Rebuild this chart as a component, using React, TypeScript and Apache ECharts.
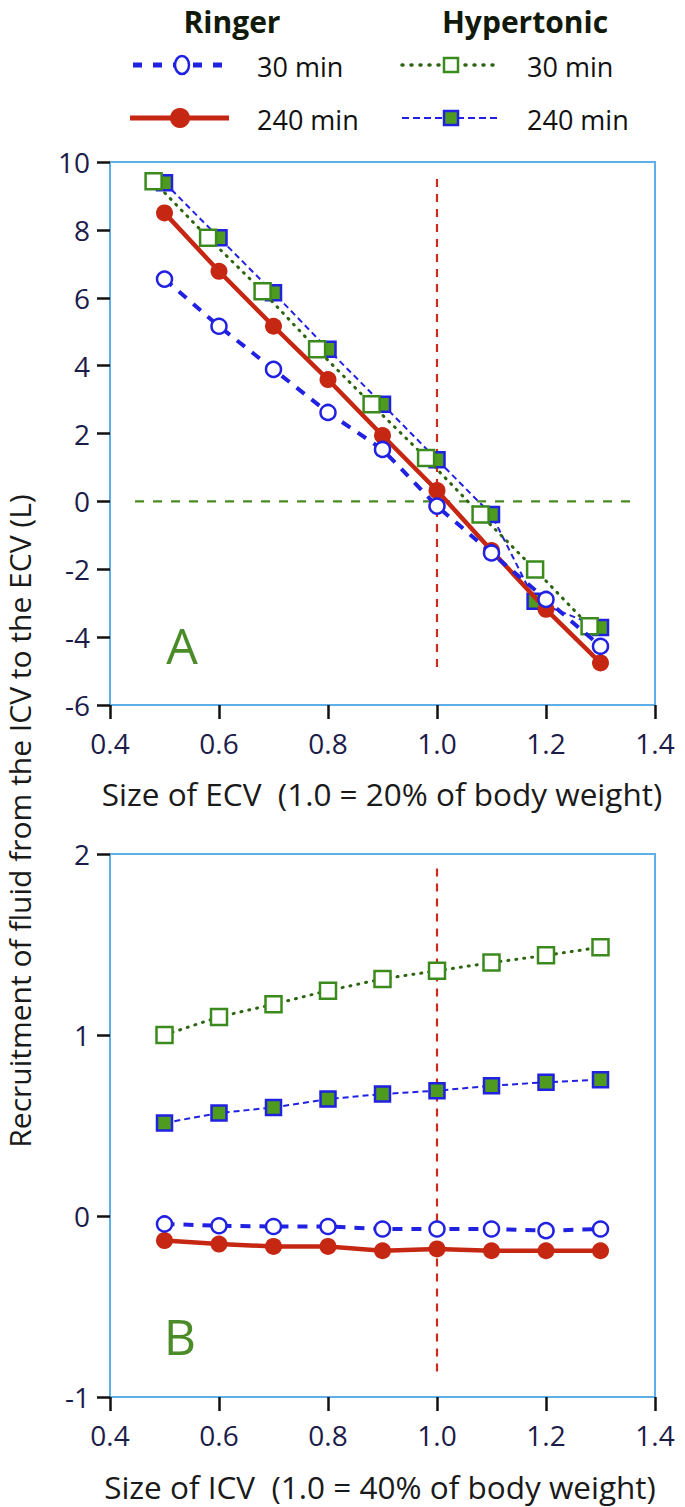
import React, { useEffect, useRef } from "react";
import * as echarts from "echarts";

// ---------- Data ----------
const xTicks = [0.4, 0.6, 0.8, 1.0, 1.2, 1.4];

// Panel A (Size of ECV)
const xA_ringer = [0.5, 0.6, 0.7, 0.8, 0.9, 1.0, 1.1, 1.2, 1.3];
const yA_ringer30 = [6.55, 5.16, 3.89, 2.62, 1.53, -0.14, -1.52, -2.89, -4.27];
const yA_ringer240 = [8.5, 6.78, 5.16, 3.59, 1.94, 0.32, -1.45, -3.18, -4.76];
const xA_hyper30 = [0.48, 0.58, 0.68, 0.78, 0.88, 0.98, 1.08, 1.18, 1.28];
const yA_hyper30 = [9.43, 7.77, 6.19, 4.48, 2.86, 1.28, -0.39, -2.01, -3.68];
const xA_hyper240 = [0.5, 0.6, 0.7, 0.8, 0.9, 1.0, 1.1, 1.18, 1.3];
const yA_hyper240 = [9.39, 7.77, 6.15, 4.48, 2.86, 1.23, -0.39, -2.94, -3.72];

// Panel B (Size of ICV)
const xB = [0.5, 0.6, 0.7, 0.8, 0.9, 1.0, 1.1, 1.2, 1.3];
const yB_hyper30 = [1.0, 1.1, 1.17, 1.245, 1.31, 1.355, 1.4, 1.44, 1.485];
const yB_hyper240 = [0.514, 0.569, 0.6, 0.646, 0.674, 0.692, 0.72, 0.739, 0.753];
const yB_ringer30 = [-0.044, -0.054, -0.058, -0.058, -0.072, -0.072, -0.072, -0.081, -0.072];
const yB_ringer240 = [-0.136, -0.155, -0.168, -0.168, -0.192, -0.182, -0.192, -0.192, -0.192];

// Reference lines
const refA_vertical = [[1.0, 9.5], [1.0, -5.0]];
const refA_horizontal = [[0.446, 0], [1.366, 0]];
const refB_vertical = [[1.0, 1.92], [1.0, -0.89]];

const zip = (xs: number[], ys: number[]) => xs.map((x, i) => [x, ys[i]]);

// ---------- Styles ----------
const FONT = "Open Sans";
const BLUE = "#2121e2";
const RED = "#c62713";
const GREEN = "#3b8a1d";
const GREEN_FILL = "#4f9b1f";
const DOT_GREEN = "#2c6410";
const BOX = "#5eaee9";
const NAVY = "#1c1c4a";

const ringer30Style = {
  type: "line",
  symbol: "circle",
  symbolSize: 15,
  itemStyle: { color: "#ffffff", borderColor: BLUE, borderWidth: 2.5 },
  lineStyle: { color: BLUE, width: 4, type: [10, 9] },
  z: 5,
};
const ringer240Style = {
  type: "line",
  symbol: "circle",
  symbolSize: 17,
  itemStyle: { color: RED },
  lineStyle: { color: RED, width: 4.5, type: "solid" },
  z: 4,
};
const hyper30Style = {
  type: "line",
  symbol: "rect",
  symbolSize: 16,
  itemStyle: { color: "#ffffff", borderColor: GREEN, borderWidth: 2.5 },
  lineStyle: { color: DOT_GREEN, width: 3, type: [1, 7], cap: "round" },
  z: 3,
};
const hyper240Style = {
  type: "line",
  symbol: "rect",
  symbolSize: 15,
  itemStyle: { color: GREEN_FILL, borderColor: BLUE, borderWidth: 2.5 },
  lineStyle: { color: BLUE, width: 2, type: [6, 4] },
  z: 2,
};

const axisCommonX = (gridIndex: number) => ({
  type: "value",
  gridIndex,
  min: 0.4,
  max: 1.4,
  interval: 0.2,
  axisLine: { show: true, onZero: false, lineStyle: { color: BOX, width: 2 } },
  axisTick: { show: true, length: 14, lineStyle: { color: "#111", width: 2.5 } },
  axisLabel: {
    margin: 24,
    color: NAVY,
    fontFamily: FONT,
    fontSize: 28,
    formatter: (v: number) => v.toFixed(1),
  },
  splitLine: { show: false },
});

const axisCommonY = (gridIndex: number, min: number, max: number, interval: number) => ({
  type: "value",
  gridIndex,
  min,
  max,
  interval,
  axisLine: { show: true, onZero: false, lineStyle: { color: BOX, width: 2 } },
  axisTick: { show: true, length: 13, lineStyle: { color: "#111", width: 2.5 } },
  axisLabel: {
    margin: 20,
    color: NAVY,
    fontFamily: FONT,
    fontSize: 28,
    formatter: (v: number) => String(v),
  },
  splitLine: { show: false },
});

const refLine = (data: number[][], color: string, idx: number, dash: number[]) => ({
  type: "line",
  xAxisIndex: idx,
  yAxisIndex: idx,
  data,
  symbol: "none",
  silent: true,
  lineStyle: { color, width: 2.2, type: dash },
  z: 1,
});

const centeredText = (text: string, x: number, y: number, size: number, fill: string, extra: any = {}) => ({
  type: "text",
  x,
  y,
  rotation: extra.rotation || 0,
  style: {
    text,
    fill,
    fontFamily: FONT,
    fontSize: size,
    fontWeight: extra.bold ? "bold" : "normal",
    align: "center",
    verticalAlign: "middle",
    textAlign: "center",
    textVerticalAlign: "middle",
  },
});

export default function App() {
  const ref = useRef<HTMLDivElement>(null);
  useEffect(() => {
    if (!ref.current) return;
    const chart = echarts.init(ref.current, undefined, { renderer: "svg" });

    const legendText = (text: string, x: number, y: number) => ({
      type: "text",
      x,
      y,
      style: {
        text,
        fill: "#111",
        fontFamily: FONT,
        fontSize: 27,
        align: "left",
        verticalAlign: "middle",
        textAlign: "left",
        textVerticalAlign: "middle",
      },
    });

    const option = {
      animation: false,
      backgroundColor: "#ffffff",
      grid: [
        { left: 110, top: 162, width: 545, height: 543, show: true, borderColor: BOX, borderWidth: 2 },
        { left: 110, top: 854, width: 545, height: 543, show: true, borderColor: BOX, borderWidth: 2 },
      ],
      xAxis: [axisCommonX(0), axisCommonX(1)],
      yAxis: [axisCommonY(0, -6, 10, 2), axisCommonY(1, -1, 2, 1)],
      series: [
        refLine(refA_vertical, "#cc2a1a", 0, [8, 7]),
        refLine(refA_horizontal, "#4a8a20", 0, [9, 9]),
        refLine(refB_vertical, "#cc2a1a", 1, [8, 7]),
        { ...hyper240Style, name: "Hyper240A", xAxisIndex: 0, yAxisIndex: 0, data: zip(xA_hyper240, yA_hyper240) },
        { ...hyper30Style, name: "Hyper30A", xAxisIndex: 0, yAxisIndex: 0, data: zip(xA_hyper30, yA_hyper30) },
        { ...ringer240Style, name: "Ringer240A", xAxisIndex: 0, yAxisIndex: 0, data: zip(xA_ringer, yA_ringer240) },
        { ...ringer30Style, name: "Ringer30A", xAxisIndex: 0, yAxisIndex: 0, data: zip(xA_ringer, yA_ringer30) },
        { ...hyper240Style, name: "Hyper240B", xAxisIndex: 1, yAxisIndex: 1, data: zip(xB, yB_hyper240) },
        { ...hyper30Style, name: "Hyper30B", xAxisIndex: 1, yAxisIndex: 1, data: zip(xB, yB_hyper30) },
        { ...ringer240Style, name: "Ringer240B", xAxisIndex: 1, yAxisIndex: 1, data: zip(xB, yB_ringer240) },
        { ...ringer30Style, name: "Ringer30B", xAxisIndex: 1, yAxisIndex: 1, data: zip(xB, yB_ringer30) },
      ],
      graphic: [
        // Legend headers
        centeredText("Ringer", 232, 21, 30, "#111a0a", { bold: true }),
        centeredText("Hypertonic", 525, 21, 30, "#111a0a", { bold: true }),
        // Ringer 30 min
        { type: "line", shape: { x1: 133, y1: 65, x2: 225, y2: 65 }, style: { stroke: BLUE, lineWidth: 5, lineDash: [9, 11] } },
        { type: "ellipse", shape: { cx: 182, cy: 65, rx: 7, ry: 9 }, style: { fill: "#fff", stroke: BLUE, lineWidth: 2.5 } },
        legendText("30 min", 257, 66),
        // Ringer 240 min
        { type: "line", shape: { x1: 130, y1: 118, x2: 229, y2: 118 }, style: { stroke: RED, lineWidth: 5 } },
        { type: "circle", shape: { cx: 180, cy: 118, r: 10 }, style: { fill: RED } },
        legendText("240 min", 257, 119),
        // Hypertonic 30 min
        { type: "line", shape: { x1: 402, y1: 65, x2: 499, y2: 65 }, style: { stroke: DOT_GREEN, lineWidth: 3.5, lineDash: [1, 8], lineCap: "round" } },
        { type: "rect", shape: { x: 444, y: 58, width: 14, height: 14 }, style: { fill: "#fff", stroke: GREEN, lineWidth: 2.5 } },
        legendText("30 min", 527, 66),
        // Hypertonic 240 min
        { type: "line", shape: { x1: 402, y1: 118, x2: 501, y2: 118 }, style: { stroke: BLUE, lineWidth: 2, lineDash: [7, 4] } },
        { type: "rect", shape: { x: 444, y: 111, width: 14, height: 14 }, style: { fill: GREEN_FILL, stroke: BLUE, lineWidth: 2.5 } },
        legendText("240 min", 527, 119),
        // Panel labels
        centeredText("A", 182, 645, 50, "#4b8b28"),
        centeredText("B", 180, 1336, 50, "#4b8b28"),
        // Axis titles
        centeredText("Size of ECV  (1.0 = 20% of body weight)", 382, 793, 31.5, "#1a1a1a"),
        centeredText("Size of ICV  (1.0 = 40% of body weight)", 380, 1486, 31.5, "#1a1a1a"),
        centeredText("Recruitment of fluid from the ICV to the ECV (L)", 19, 821, 30, "#1a1a1a", { rotation: Math.PI / 2 }),
      ],
    };
    chart.setOption(option as any);
    return () => chart.dispose();
  }, []);
  return <div ref={ref} style={{ position: "absolute", left: 0, top: 0, width: 685, height: 1507 }} />;
}
